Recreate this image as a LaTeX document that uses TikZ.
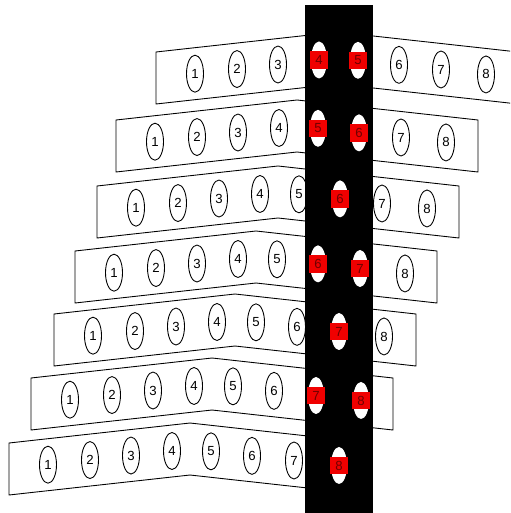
\documentclass[tikz,border=0pt]{standalone}
\usepackage{fontspec}
\setmainfont{Liberation Sans}
\usetikzlibrary{shapes.geometric}
\definecolor{cred}{HTML}{F00000}
\definecolor{cdarkred}{HTML}{6E0000}
\tikzset{
  every picture/.style={line width=0.5pt},
  strip/.style={draw=black, fill=white, line join=miter},
  slot/.style={ellipse, draw=black, fill=white, inner sep=0pt, minimum width=0.34cm, minimum height=0.74cm, font=\fontsize{7.5}{9}\selectfont},
  hole/.style={ellipse, fill=white, inner sep=0pt, minimum width=0.32cm, minimum height=0.74cm},
  tag/.style={fill=cred, text=cdarkred, inner sep=0pt, minimum width=0.36cm, minimum height=0.35cm, font=\fontsize{7.5}{9}\selectfont},
  bar/.style={fill=black, inner sep=0pt, minimum width=1.36cm, minimum height=10.16cm},
}
\begin{document}
\begin{tikzpicture}[x=0.02cm, y=-0.02cm]
  \clip (0,0) rectangle (510,513);
  % strips, one per row: row/centre/top of the ends
  \foreach \r/\c/\t in {1/337/52, 2/297/120, 3/278/186, 4/256/251, 5/235/314, 6/212/378, 7/190/443} {
    \draw[strip] (\c-181,\t) -- (\c,\t-20) -- (\c+181,\t) -- (\c+181,\t+52) -- (\c,\t+32) -- (\c-181,\t+52) -- cycle;
    \foreach \i/\d in {1/-142, 2/-100, 3/-59, 4/-18, 5/21, 6/62, 7/104, 8/149} {
      \pgfmathsetmacro\ox{\c+\d}
      \pgfmathsetmacro\oy{\t+6+20*abs(\d)/181}
      \pgfmathtruncatemacro\inbar{and(\ox>304, \ox<374)}
      \ifnum\inbar=1
        \coordinate (s\r\i) at (\ox,\oy);
      \else
        \node[slot] (s\r\i) at (\ox,\oy) {\i};
      \fi
    }
  }
  % black bar
  \node[bar] (bar) at (339,259) {};
  % slots seen through the bar
  \foreach \r/\i in {1/4, 1/5, 2/5, 2/6, 3/6, 4/6, 4/7, 5/7, 6/7, 6/8, 7/8} {
    \node[hole] (h\r\i) at (s\r\i) {};
    \node[tag] (t\r\i) at (h\r\i) {\i};
  }
\end{tikzpicture}
\end{document}
